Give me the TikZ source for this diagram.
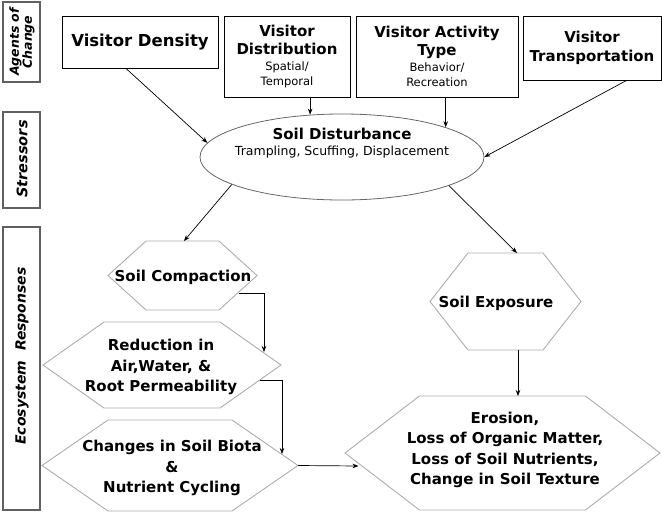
\documentclass[tikz,border=0pt]{standalone}
\usepackage{fontspec}
\setmainfont{DejaVu Sans}
\usetikzlibrary{shapes.geometric,arrows.meta,calc}
\newcommand\bigf{\fontsize{15}{20.5}\selectfont\bfseries}
\newcommand\smallf{\fontsize{11.5}{13.5}\selectfont\mdseries}
\newcommand\hexshape[4]{\draw[hexline] ($(#1)+(-#2,0)$) -- ($(#1)+(-#3,-#4)$) -- ($(#1)+(#3,-#4)$) -- ($(#1)+(#2,0)$) -- ($(#1)+(#3,#4)$) -- ($(#1)+(-#3,#4)$) -- cycle;}
\begin{document}
\begin{tikzpicture}[x=1pt,y=-1pt,
  agent/.style={draw=black,line width=0.9pt,inner sep=0pt,align=center,font=\bigf},
  sidebox/.style={draw=gray!75!black,line width=1.2pt,inner sep=0pt},
  sidetxt/.style={rotate=90,inner sep=0pt,align=center,font=\fontsize{14.5}{13}\selectfont\bfseries\itshape},
  ell/.style={ellipse,draw=gray!80!black,line width=0.8pt,inner sep=0pt},
  hexline/.style={draw=gray!65,line width=0.9pt},
  txt/.style={align=center,font=\bigf,inner sep=0pt},
  arr/.style={-{Stealth[length=6pt,width=4.5pt]},line width=0.7pt}]
\useasboundingbox (0,0) rectangle (662,512);
% side labels
\node[sidebox,minimum width=37pt,minimum height=80pt] (l1) at (21.5,42) {};
\node[sidetxt] (l1t) at (22,42) {{\fontsize{12.5}{12.5}\selectfont Agents of}\\{\fontsize{12.5}{12.5}\selectfont Change}};
\node[sidebox,minimum width=37pt,minimum height=96pt] (l2) at (21.5,160) {};
\node[sidetxt] (l2t) at (22,159) {Stressors};
\node[sidebox,minimum width=37pt,minimum height=283pt] (l3) at (21.5,368.5) {};
\node[sidetxt,font=\fontsize{14}{13}\selectfont\bfseries\itshape] (l3t) at (22,356) {Ecosystem\ \ Responses};
% agents
\node[agent,minimum width=156pt,minimum height=52pt] (dens) at (140,42) {{\fontsize{16.5}{20}\selectfont Visitor Density}};
\node[agent,minimum width=126pt,minimum height=81pt] (vdist) at (287,56.5) {Visitor\\[-3pt]Distribution\\[-4pt]{\smallf Spatial/}\\[-6pt]{\smallf Temporal}};
\node[agent,minimum width=162pt,minimum height=81pt] (vact) at (437,56.5) {Visitor Activity\\[-3pt]Type\\[-4pt]{\smallf Behavior/}\\[-6pt]{\smallf Recreation}};
\node[agent,minimum width=138pt,minimum height=64pt] (vtrans) at (592,48) {Visitor\\[-2pt]Transportation};
% stressor
\node[ell,minimum width=284pt,minimum height=86pt] (dist) at (342,157) {};
\node[txt] (disttxt) at (342,143) {Soil Disturbance\\[-5pt]{\fontsize{12.5}{14}\selectfont\mdseries Trampling, Scuffing, Displacement}};
% hexagon centres
\coordinate (compc) at (182.5,275.5);
\coordinate (redc) at (162,365);
\coordinate (chc) at (170,465.5);
\coordinate (expc) at (505.5,301.5);
\coordinate (eroc) at (502.5,453);
\hexshape{compc}{74.5}{36.5}{34.5}
\hexshape{redc}{119}{58}{43}
\hexshape{chc}{128}{62}{45.5}
\hexshape{expc}{75.5}{37.5}{48.5}
\hexshape{eroc}{157.5}{83}{57}
\node[txt] (comp) at (183,277) {Soil Compaction};
\node[txt] (red) at (161,367) {Reduction in\\Air,Water, \&\\Root Permeability};
\node[txt] (chg) at (172,468) {Changes in Soil Biota\\\&\\Nutrient Cycling};
\node[txt] (exp) at (496,303) {Soil Exposure};
\node[txt] (ero) at (505,450) {Erosion,\\Loss of Organic Matter,\\ Loss of Soil Nutrients,\\Change in Soil Texture};
% connectors
\draw[arr] ([xshift=-14pt]dens.south) -- (dist.174);
\draw[arr] (dist.127 |- vdist.south) -- (dist.127);
\draw[arr] (dist.16.5 |- vact.south) -- (dist.16.5);
\draw[arr] ([xshift=34.5pt]vtrans.south) -- (dist.east);
\draw[arr] (dist.194) -- ($(compc)+(1.5,-34.5)$);
\draw[arr] (dist.345.5) -- ($(expc)+(11.5,-48.5)$);
\draw[arr] ($(compc)+(56,17.5)$) -| ($(redc)+(102,-13)$);
\draw[arr] ($(redc)+(98,15)$) -| ($(chc)+(112,-11.5)$);
\draw[arr] ($(chc)+(128,0)$) -- ($(eroc)+(-144,13)$);
\draw[arr] ($(expc)+(12.5,48.5)$) -- ($(eroc)+(15.5,-57)$);
\end{tikzpicture}
\end{document}
